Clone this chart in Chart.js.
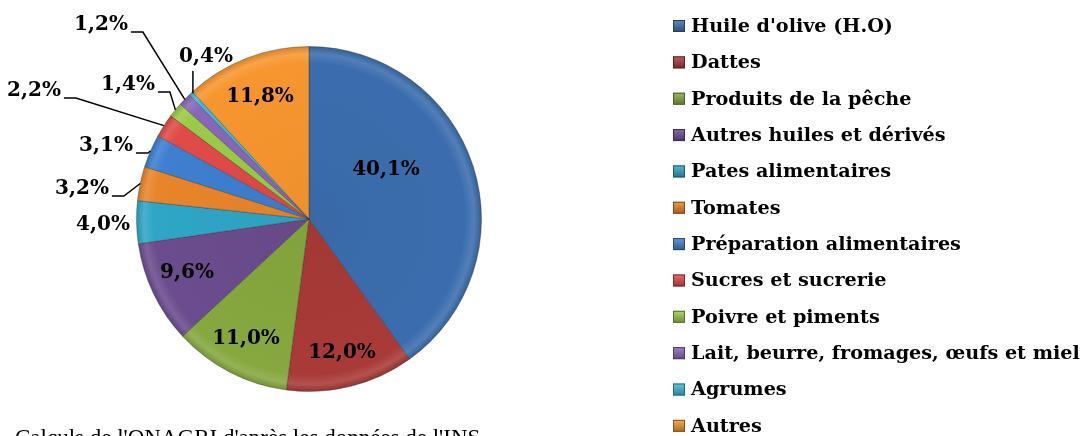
<!DOCTYPE html>
<html>
<head>
<meta charset="utf-8">
<script src="https://cdn.jsdelivr.net/npm/chart.js@4"></script>
<style>
  html, body { margin: 0; padding: 0; background: #fff; }
  #wrap { width: 1084px; height: 436px; overflow: hidden; }
</style>
</head>
<body>
<div id="wrap"><canvas id="myChart" width="1084" height="436"></canvas></div>
<script>
const categories = [
  "Huile d'olive (H.O)",
  "Dattes",
  "Produits de la pêche",
  "Autres huiles et dérivés",
  "Pates alimentaires",
  "Tomates",
  "Préparation alimentaires",
  "Sucres et sucrerie",
  "Poivre et piments",
  "Lait, beurre, fromages, œufs et miel",
  "Agrumes",
  "Autres",
];
const shares = [40.1, 12.0, 11.0, 9.6, 4.0, 3.2, 3.1, 2.2, 1.4, 1.2, 0.4, 11.8];
const sourceNote = "Calculs de l'ONAGRI d'après les données de l'INS";

const colors = [
  "#3b6dae", "#a93a37", "#86a83f", "#6b4c8e", "#2fa6c6", "#e8852a",
  "#3e7fd0", "#e04b48", "#9acb48", "#8a66ba", "#3db9d9", "#f7962f",
];

// label placement relative to pie centre; lead = draw leader line to the slice
const labelPlace = [
  { dx: 77, dy: -49 },
  { dx: 33, dy: 134 },
  { dx: -63, dy: 120 },
  { dx: -122, dy: 54 },
  { dx: -206, dy: 6 },
  { dx: -227, dy: -30, lead: "elbow" },
  { dx: -203, dy: -73, lead: "elbow" },
  { dx: -275, dy: -128, lead: "elbow" },
  { dx: -181, dy: -134, lead: "elbow" },
  { dx: -208, dy: -194, lead: "elbow" },
  { dx: -103, dy: -162, lead: "drop" },
  { dx: -49, dy: -122 },
];

const serif = "'DejaVu Serif', 'Liberation Serif', serif";

function shade(hex, amt) {
  const n = parseInt(hex.slice(1), 16);
  let r = (n >> 16) & 255, g = (n >> 8) & 255, b = n & 255;
  const f = (c) => Math.max(0, Math.min(255, Math.round(amt > 0 ? c + (255 - c) * amt : c * (1 + amt))));
  return "rgb(" + f(r) + "," + f(g) + "," + f(b) + ")";
}

function sliceFill(ctx) {
  const base = colors[ctx.dataIndex];
  const chart = ctx.chart;
  const area = chart.chartArea;
  if (!area || !area.width) return base;
  const cx = (area.left + area.right) / 2;
  const cy = (area.top + area.bottom) / 2;
  const r = Math.min(area.width, area.height) / 2;
  const g = chart.ctx.createRadialGradient(cx, cy, 0, cx, cy, r);
  g.addColorStop(0, shade(base, -0.04));
  g.addColorStop(0.9, base);
  g.addColorStop(0.955, shade(base, 0.12));
  g.addColorStop(1, shade(base, -0.15));
  return g;
}

const pctLabels = {
  id: "pctLabels",
  afterDatasetsDraw(chart) {
    const ctx = chart.ctx;
    const meta = chart.getDatasetMeta(0);
    ctx.save();
    ctx.font = "bold 20px " + serif;
    ctx.fillStyle = "#000";
    ctx.strokeStyle = "#000";
    ctx.lineWidth = 1.5;
    ctx.textAlign = "center";
    ctx.textBaseline = "middle";
    meta.data.forEach((arc, i) => {
      const p = arc.getProps(["x", "y", "startAngle", "endAngle", "outerRadius"], true);
      const place = labelPlace[i];
      const tx = p.x + place.dx, ty = p.y + place.dy;
      const txt = shares[i].toFixed(1).replace(".", ",") + "%";
      ctx.fillText(txt, tx, ty);
      const mid = (p.startAngle + p.endAngle) / 2;
      const ax = p.x + Math.cos(mid) * p.outerRadius;
      const ay = p.y + Math.sin(mid) * p.outerRadius;
      if (place.lead === "elbow") {
        const w = ctx.measureText(txt).width;
        const sx = tx + w / 2 + 3, sy = ty + 7;
        ctx.beginPath();
        ctx.moveTo(sx, sy);
        ctx.lineTo(sx + 12, sy);
        ctx.lineTo(ax, ay);
        ctx.stroke();
      } else if (place.lead === "drop") {
        ctx.beginPath();
        ctx.moveTo(ax + 2, ty + 14);
        ctx.lineTo(ax + 2, ay);
        ctx.stroke();
      }
    });
    ctx.restore();
  },
};

const sideLegend = {
  id: "sideLegend",
  afterDraw(chart) {
    const ctx = chart.ctx;
    ctx.save();
    ctx.font = "bold 19.2px " + serif;
    ctx.textBaseline = "middle";
    ctx.textAlign = "left";
    categories.forEach((name, i) => {
      const y = 26 + i * 36.35;
      const c = colors[i];
      const g = ctx.createLinearGradient(0, y - 6, 0, y + 6);
      g.addColorStop(0, shade(c, 0.2));
      g.addColorStop(1, shade(c, -0.3));
      ctx.fillStyle = g;
      ctx.fillRect(673, y - 6, 12, 12);
      ctx.strokeStyle = shade(c, -0.45);
      ctx.lineWidth = 1;
      ctx.strokeRect(673.5, y - 5.5, 11, 11);
      ctx.fillStyle = "#000";
      ctx.fillText(name, 691, y + 1);
    });
    ctx.font = "23px 'Liberation Serif', serif";
    ctx.textBaseline = "top";
    ctx.fillText(sourceNote, 15, 427);
    ctx.restore();
  },
};

const data = {
  labels: categories,
  datasets: [
    {
      data: shares,
      backgroundColor: sliceFill,
      borderColor: "rgba(40,40,40,0.35)",
      borderWidth: 1,
    },
  ],
};

const config = {
  type: "pie",
  data,
  options: {
    responsive: false,
    animation: false,
    layout: { padding: { left: 136, right: 602, top: 46, bottom: 44 } },
    plugins: {
      legend: { display: false },
      tooltip: { enabled: false },
    },
  },
  plugins: [pctLabels, sideLegend],
};

const myChart = new Chart(document.getElementById("myChart"), config);
</script>
</body>
</html>
